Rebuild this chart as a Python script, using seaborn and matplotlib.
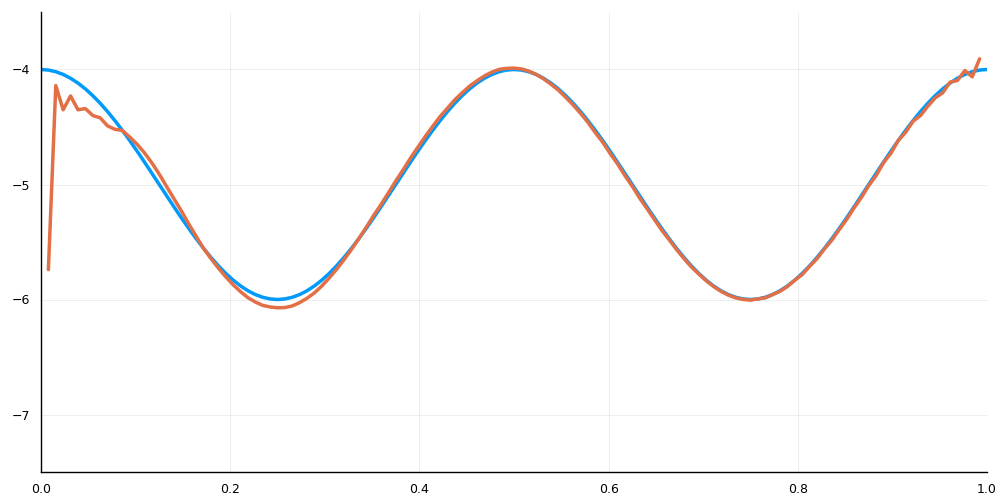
import matplotlib
matplotlib.use("Agg")
import matplotlib.pyplot as plt
import seaborn as sns
import numpy as np
import pandas as pd

# exact curve, sampled at steps of 1/128 on [0, 1]
exact_x = np.linspace(0, 1, 129)
exact_y = [
    -4.0000, -4.0048, -4.0192, -4.0431, -4.0761, -4.1181, -4.1685, -4.2270,
    -4.2929, -4.3656, -4.4444, -4.5286, -4.6173, -4.7097, -4.8049, -4.9020,
    -5.0000, -5.0980, -5.1951, -5.2903, -5.3827, -5.4714, -5.5556, -5.6344,
    -5.7071, -5.7730, -5.8315, -5.8819, -5.9239, -5.9569, -5.9808, -5.9952,
    -6.0000, -5.9952, -5.9808, -5.9569, -5.9239, -5.8819, -5.8315, -5.7730,
    -5.7071, -5.6344, -5.5556, -5.4714, -5.3827, -5.2903, -5.1951, -5.0980,
    -5.0000, -4.9020, -4.8049, -4.7097, -4.6173, -4.5286, -4.4444, -4.3656,
    -4.2929, -4.2270, -4.1685, -4.1181, -4.0761, -4.0431, -4.0192, -4.0048,
    -4.0000, -4.0048, -4.0192, -4.0431, -4.0761, -4.1181, -4.1685, -4.2270,
    -4.2929, -4.3656, -4.4444, -4.5286, -4.6173, -4.7097, -4.8049, -4.9020,
    -5.0000, -5.0980, -5.1951, -5.2903, -5.3827, -5.4714, -5.5556, -5.6344,
    -5.7071, -5.7730, -5.8315, -5.8819, -5.9239, -5.9569, -5.9808, -5.9952,
    -6.0000, -5.9952, -5.9808, -5.9569, -5.9239, -5.8819, -5.8315, -5.7730,
    -5.7071, -5.6344, -5.5556, -5.4714, -5.3827, -5.2903, -5.1951, -5.0980,
    -5.0000, -4.9020, -4.8049, -4.7097, -4.6173, -4.5286, -4.4444, -4.3656,
    -4.2929, -4.2270, -4.1685, -4.1181, -4.0761, -4.0431, -4.0192, -4.0048,
    -4.0000,
]

# approximate solution on the interior grid points k/128, k = 1..127
approx_x = np.arange(1, 128) / 128
approx_y = [
    -5.740, -4.140, -4.350, -4.230, -4.350, -4.340, -4.400, -4.420, -4.490, -4.520,
    -4.530, -4.587, -4.650, -4.725, -4.812, -4.910, -5.018, -5.125, -5.230, -5.343,
    -5.451, -5.556, -5.644, -5.727, -5.803, -5.872, -5.932, -5.984, -6.022, -6.051,
    -6.065, -6.072, -6.070, -6.056, -6.027, -5.989, -5.942, -5.882, -5.813, -5.737,
    -5.654, -5.566, -5.471, -5.373, -5.270, -5.175, -5.073, -4.970, -4.872, -4.770,
    -4.675, -4.582, -4.494, -4.409, -4.336, -4.263, -4.202, -4.144, -4.098, -4.056,
    -4.023, -3.999, -3.990, -3.988, -3.995, -4.014, -4.043, -4.081, -4.128, -4.179,
    -4.242, -4.308, -4.381, -4.459, -4.549, -4.632, -4.730, -4.820, -4.922, -5.015,
    -5.118, -5.210, -5.305, -5.398, -5.481, -5.566, -5.644, -5.717, -5.778, -5.837,
    -5.887, -5.929, -5.962, -5.986, -6.000, -6.005, -5.995, -5.986, -5.957, -5.929,
    -5.887, -5.832, -5.783, -5.712, -5.645, -5.561, -5.485, -5.393, -5.305, -5.205,
    -5.113, -5.010, -4.922, -4.810, -4.728, -4.617, -4.545, -4.450, -4.400, -4.319,
    -4.246, -4.203, -4.110, -4.096, -4.009, -4.064, -3.907,
]

x_ticks = [0.0, 0.2, 0.4, 0.6, 0.8, 1.0]
y_ticks = [-7, -6, -5, -4]

sns.set_style("white")
plt.rcParams["font.family"] = ["DejaVu Sans"]

exact_df = pd.DataFrame({"x": exact_x, "y": exact_y})
approx_df = pd.DataFrame({"x": approx_x, "y": approx_y})

fig = plt.figure(figsize=(10, 5), dpi=100)
ax = fig.add_axes([0.041, 0.056, 0.946, 0.920])

sns.lineplot(data=exact_df, x="x", y="y", ax=ax, color="#009AFA", linewidth=2.5)
sns.lineplot(data=approx_df, x="x", y="y", ax=ax, color="#E36F47", linewidth=2.5)

ax.set_xlim(0, 1)
ax.set_ylim(-7.5, -3.5)
ax.set_xticks(x_ticks)
ax.set_xticklabels([f"{t:.1f}" for t in x_ticks])
ax.set_yticks(y_ticks)
ax.set_yticklabels([f"\u2212{abs(t)}" for t in y_ticks])
ax.set_xlabel("")
ax.set_ylabel("")

ax.grid(True, color="black", alpha=0.08, linewidth=0.6)
for side in ["top", "right"]:
    ax.spines[side].set_visible(False)
for side in ["left", "bottom"]:
    ax.spines[side].set_color("black")
    ax.spines[side].set_linewidth(1.0)
ax.tick_params(direction="in", length=4, width=0.8, labelsize=9, colors="black", pad=8)

fig.savefig("out.png", dpi=100)
